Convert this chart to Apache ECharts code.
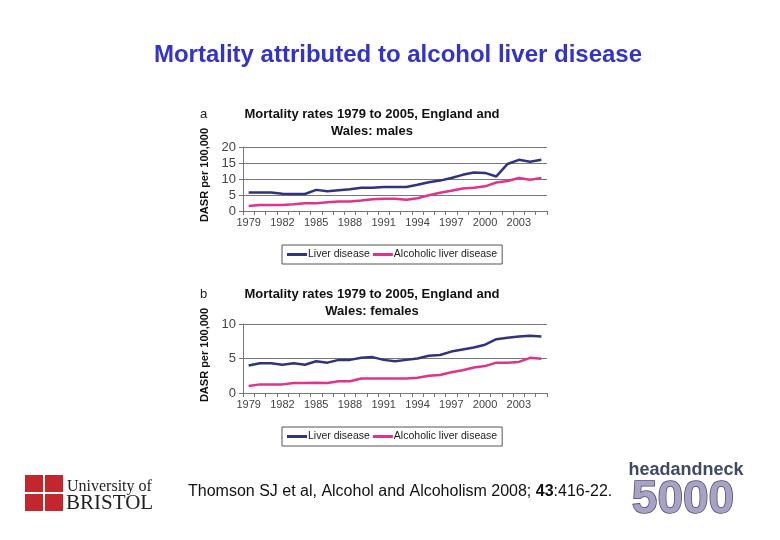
<!DOCTYPE html>
<html><head><meta charset="utf-8">
<script src="https://cdn.jsdelivr.net/npm/echarts@6/dist/echarts.min.js"></script>
<style>html,body{margin:0;padding:0;background:#fff}#c{width:780px;height:540px}</style>
</head><body><div id="c"></div>
<script>
const years = ['1979','1980','1981','1982','1983','1984','1985','1986','1987','1988','1989','1990','1991','1992','1993','1994','1995','1996','1997','1998','1999','2000','2001','2002','2003','2004','2005'];
const maleLiver = [5.8,5.8,5.8,5.4,5.3,5.3,6.6,6.2,6.5,6.8,7.3,7.3,7.5,7.5,7.5,8.2,9.0,9.5,10.3,11.3,12.0,11.9,10.8,14.7,16.0,15.4,16.0];
const maleAlcoholic = [1.6,1.9,1.9,1.9,2.1,2.4,2.4,2.7,3.0,3.0,3.3,3.7,3.8,3.8,3.5,4.0,4.9,5.7,6.3,7.0,7.3,7.7,8.9,9.4,10.3,9.8,10.3];
const femaleLiver = [4.0,4.3,4.3,4.1,4.3,4.1,4.6,4.4,4.8,4.8,5.1,5.2,4.8,4.6,4.8,5.0,5.4,5.5,6.0,6.3,6.6,7.0,7.8,8.0,8.2,8.3,8.2];
const femaleAlcoholic = [1.0,1.25,1.25,1.25,1.45,1.45,1.5,1.45,1.7,1.7,2.1,2.1,2.1,2.1,2.1,2.2,2.5,2.6,3.0,3.3,3.7,3.9,4.4,4.4,4.5,5.1,4.95];
const seriesNames = ['Liver disease','Alcoholic liver disease'];

const navy = '#2e347e', pink = '#e0338c';
const F = 'Liberation Sans, Arial, sans-serif';
const chart = echarts.init(document.getElementById('c'));

function xAxis(gi){
  return {type:'category', gridIndex:gi, data:years, boundaryGap:true,
    axisLine:{lineStyle:{color:'#777'}},
    axisTick:{show:true, interval:0, alignWithLabel:false, length:4, lineStyle:{color:'#777'}},
    axisLabel:{interval:2, color:'#444', fontSize:11, fontFamily:F, margin:6}};
}
function yAxis(gi,max,interval){
  return {type:'value', gridIndex:gi, min:0, max:max, interval:interval,
    axisLine:{show:true, lineStyle:{color:'#777'}},
    axisTick:{show:true, length:4, lineStyle:{color:'#777'}},
    splitLine:{lineStyle:{color:'#777', width:1}},
    axisLabel:{color:'#444', fontSize:13, fontFamily:F, margin:7}};
}
function line(name,data,color,gi){
  return {type:'line', name:name, xAxisIndex:gi, yAxisIndex:gi, data:data,
    symbol:'none', lineStyle:{color:color, width:2.5}, itemStyle:{color:color}, animation:false};
}
function legend(top){
  return {top:top, left:282, orient:'horizontal', data:seriesNames,
    borderColor:'#555', borderWidth:1, padding:[4,5,4,5], itemGap:3,
    icon:'rect', itemWidth:20, itemHeight:3,
    textStyle:{fontSize:10.5, fontFamily:F, color:'#222', padding:[0,0,0,-4]}};
}
function ttl(y,text){
  return {type:'text', x:372, y:y, style:{text:text, font:'bold 13px '+F, fill:'#111', textAlign:'center', textVerticalAlign:'middle'}};
}

chart.setOption({
  animation:false,
  grid:[
    {left:243, top:147, width:304, height:64},
    {left:243, top:324, width:304, height:69}
  ],
  xAxis:[xAxis(0), xAxis(1)],
  yAxis:[yAxis(0,20,5), yAxis(1,10,5)],
  legend:[legend(245), legend(427)],
  series:[
    line(seriesNames[0],maleLiver,navy,0),
    line(seriesNames[1],maleAlcoholic,pink,0),
    line(seriesNames[0],femaleLiver,navy,1),
    line(seriesNames[1],femaleAlcoholic,pink,1)
  ],
  graphic:[
    {type:'text', x:398, y:55, style:{text:'Mortality attributed to alcohol liver disease', font:'bold 24px '+F, fill:'#3333cc', textAlign:'center', textVerticalAlign:'middle'}},
    {type:'text', x:200, y:114, style:{text:'a', font:'13px '+F, fill:'#222', textVerticalAlign:'middle'}},
    ttl(114,'Mortality rates 1979 to 2005, England and'),
    ttl(131,'Wales: males'),
    {type:'text', x:205, y:175, rotation:Math.PI/2, style:{text:'DASR per 100,000', font:'bold 11px '+F, fill:'#111', textAlign:'center', textVerticalAlign:'middle'}},
    {type:'text', x:200, y:294, style:{text:'b', font:'13px '+F, fill:'#222', textVerticalAlign:'middle'}},
    ttl(294,'Mortality rates 1979 to 2005, England and'),
    ttl(311,'Wales: females'),
    {type:'text', x:205, y:355, rotation:Math.PI/2, style:{text:'DASR per 100,000', font:'bold 11px '+F, fill:'#111', textAlign:'center', textVerticalAlign:'middle'}},
    {type:'text', x:188, y:492, style:{rich:{n:{font:'16px '+F, fill:'#111'}, b:{font:'bold 16px '+F, fill:'#111'}}, text:'{n|Thomson SJ et al, Alcohol and Alcoholism 2008; }{b|43}{n|:416-22.}', textVerticalAlign:'middle'}},
    {type:'rect', shape:{x:25, y:475, width:18, height:17}, style:{fill:'#c4262e'}},
    {type:'rect', shape:{x:45, y:475, width:18, height:17}, style:{fill:'#c4262e'}},
    {type:'rect', shape:{x:25, y:494, width:18, height:17}, style:{fill:'#c4262e'}},
    {type:'rect', shape:{x:45, y:494, width:18, height:17}, style:{fill:'#c4262e'}},
    {type:'text', x:67, y:487, style:{text:'University of', font:'16px Liberation Serif, serif', fill:'#222', textVerticalAlign:'middle'}},
    {type:'text', x:66, y:503, style:{text:'BRISTOL', font:'21px Liberation Serif, serif', fill:'#222', textVerticalAlign:'middle'}},
    {type:'text', x:686, y:470, style:{text:'headandneck', font:'bold 18px '+F, fill:'#3e4a66', textAlign:'center', textVerticalAlign:'middle'}},
    {type:'text', x:683, y:500, style:{text:'5000', font:'bold 46px '+F, fill:'#a7a2c6', stroke:'#4b4a66', lineWidth:1.5, textAlign:'center', textVerticalAlign:'middle'}}
  ]
});
</script></body></html>
